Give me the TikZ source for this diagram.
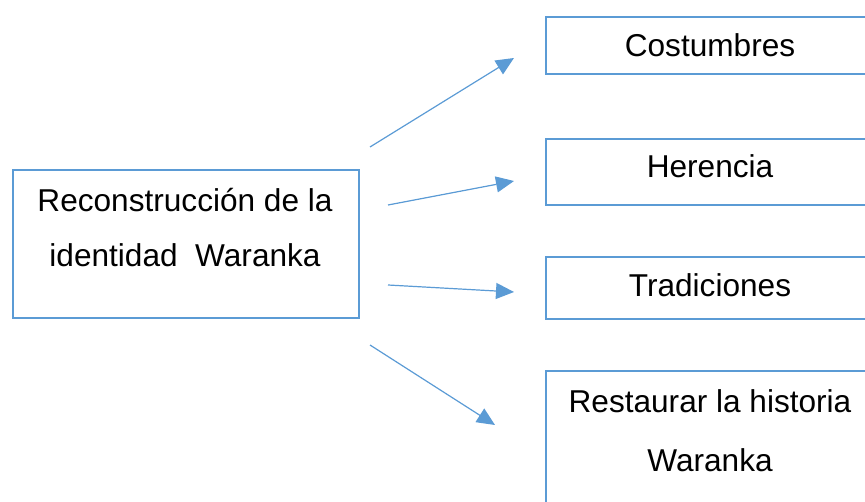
\documentclass[tikz,border=0pt]{standalone}
\usepackage{fontspec}
\setmainfont{Liberation Sans}
\usetikzlibrary{arrows.meta}
\definecolor{wordblue}{HTML}{5B9BD5}
\tikzset{
	caja/.style={draw=wordblue, line width=1.8pt, anchor=north west, inner sep=0pt, minimum width=330pt},
	texto/.style={font=\fontsize{31.6}{55}\selectfont, align=center, inner sep=0pt},
	flecha/.style={draw=wordblue, line width=1.2pt, -{Triangle[length=18pt,width=16pt]}}
}

\begin{document}
\begin{tikzpicture}[x=1pt,y=-1pt]
	\useasboundingbox (0,0) rectangle (865,502);
	% caja de la izquierda
	\node[caja, minimum width=346pt, minimum height=148pt] (rec) at (12,169) {};
	\node[texto] (rectxt) at (185,228) {Reconstrucción de la\\identidad\ \ Waranka};
	% cajas de la derecha
	\node[caja, minimum height=57pt] (cos) at (545,16) {};
	\node[texto] (costxt) at (710,45.5) {Costumbres};
	\node[caja, minimum height=66pt] (her) at (545,138) {};
	\node[texto] (hertxt) at (710,166.5) {Herencia};
	\node[caja, minimum height=62pt] (tra) at (545,256) {};
	\node[texto] (tratxt) at (710,285.5) {Tradiciones};
	\node[caja, minimum height=150pt] (res) at (545,370) {};
	\node[texto, font=\fontsize{31.6}{59}\selectfont] (restxt) at (710,431) {Restaurar la historia\\Waranka};
	% flechas
	\coordinate (s1) at (370,147); \coordinate (t1) at (514,58);
	\coordinate (s2) at (388,205); \coordinate (t2) at (514,181);
	\coordinate (s3) at (388,285); \coordinate (t3) at (514,292);
	\coordinate (s4) at (370,345); \coordinate (t4) at (495,425);
	\draw[flecha] (s1) -- (t1);
	\draw[flecha] (s2) -- (t2);
	\draw[flecha] (s3) -- (t3);
	\draw[flecha] (s4) -- (t4);
\end{tikzpicture}
\end{document}
